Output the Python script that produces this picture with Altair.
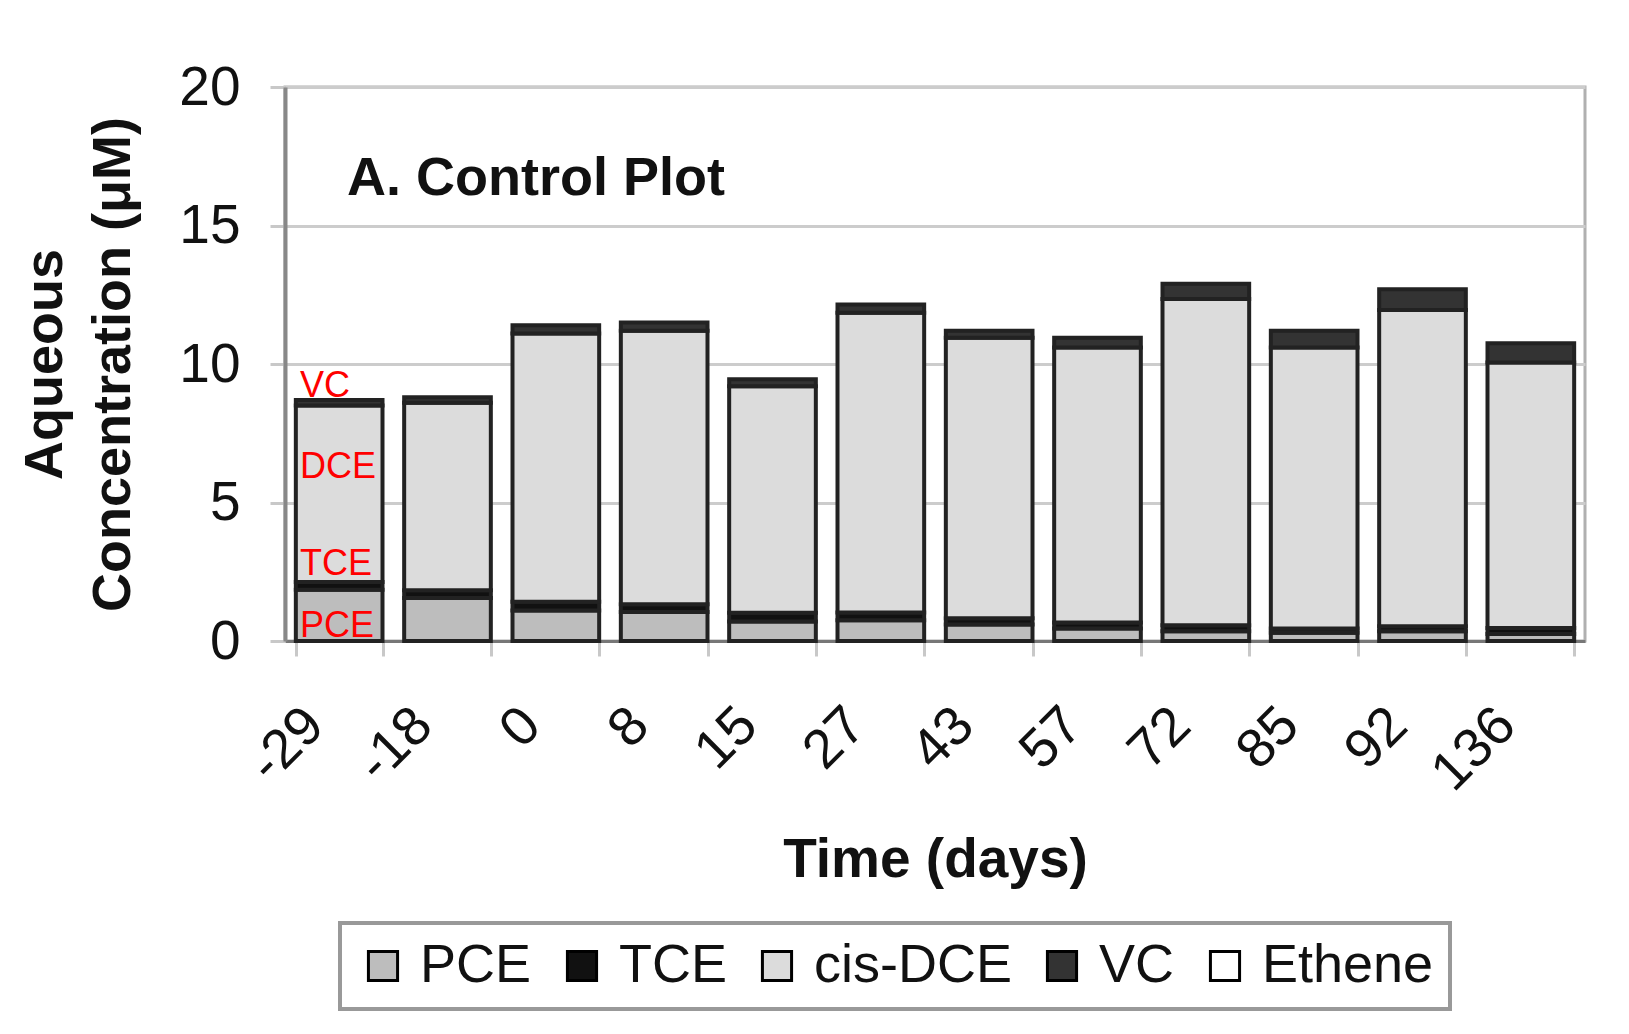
import altair as alt
import pandas as pd

# ---- data ----
days = ["-29", "-18", "0", "8", "15", "27", "43", "57", "72", "85", "92", "136"]
species = ["PCE", "TCE", "cis-DCE", "VC", "Ethene"]
pce = [1.85, 1.55, 1.10, 1.05, 0.70, 0.75, 0.60, 0.45, 0.35, 0.30, 0.35, 0.25]
tce = [0.28, 0.28, 0.32, 0.28, 0.32, 0.28, 0.22, 0.22, 0.22, 0.15, 0.18, 0.22]
dce = [6.37, 6.77, 9.68, 9.87, 8.18, 10.82, 10.13, 9.93, 11.78, 10.15, 11.42, 9.58]
vc = [0.20, 0.20, 0.30, 0.30, 0.25, 0.30, 0.25, 0.35, 0.55, 0.60, 0.75, 0.70]
ethene = [0, 0, 0, 0, 0, 0, 0, 0, 0, 0, 0, 0]
colors = ["#bdbdbd", "#111111", "#dcdcdc", "#333333", "#ffffff"]

panel_title = "A. Control Plot"
ann_labels = ["VC", "DCE", "TCE", "PCE"]
ann_values = [8.8, 5.9, 2.4, 0.15]

y_ticks = [0, 5, 10, 15, 20]

# ---- tables ----
series = [pce, tce, dce, vc, ethene]
rows = []
for i, d in enumerate(days):
    for j, s in enumerate(species):
        rows.append({"day": d, "species": s, "value": series[j][i], "order": j})
df = pd.DataFrame(rows)
ann_df = pd.DataFrame({"label": ann_labels, "value": ann_values})
title_df = pd.DataFrame({"t": [panel_title]})

FONT = "Liberation Sans"

x_enc = alt.X(
    "day:N",
    sort=days,
    scale=alt.Scale(paddingInner=0.2, paddingOuter=0.1),
    axis=alt.Axis(
        title="Time (days)",
        labelAngle=-45,
        labelAlign="right",
        labelBaseline="middle",
        labelFontSize=55,
        labelColor="#111111",
        labelOffset=-25,
        labelPadding=60,
        tickSize=15,
        tickWidth=3,
        tickColor="#c8c8c8",
        tickBand="extent",
        domainColor="#777777",
        domainWidth=3,
        titleFontSize=55,
        titleFontWeight="bold",
        titleColor="#111111",
        titlePadding=33,
        grid=False,
    ),
)

y_enc = alt.Y(
    "value:Q",
    stack="zero",
    scale=alt.Scale(domain=[0, 20]),
    axis=alt.Axis(
        values=y_ticks,
        title=["Aqueous", "Concentration (\u03bcM)"],
        titleFontSize=54,
        titleFontWeight="bold",
        titleColor="#111111",
        titleLineHeight=68,
        titlePadding=38,
        labelFontSize=55,
        labelColor="#111111",
        labelPadding=30,
        tickSize=15,
        tickWidth=3,
        tickColor="#c8c8c8",
        domainColor="#888888",
        domainWidth=4,
        gridColor="#cccccc",
        gridWidth=3,
    ),
)

bars = (
    alt.Chart(df)
    .transform_filter("datum.value > 0")
    .mark_bar(stroke="#222222", strokeWidth=4)
    .encode(
        x=x_enc,
        y=y_enc,
        color=alt.Color(
            "species:N",
            scale=alt.Scale(domain=species, range=colors),
            legend=alt.Legend(
                title=None,
                orient="none",
                legendX=55,
                legendY=836,
                direction="horizontal",
                symbolType="square",
                symbolSize=850,
                symbolStrokeColor="#000000",
                symbolStrokeWidth=3,
                symbolOpacity=1,
                labelFontSize=54,
                labelLimit=0,
                labelColor="#111111",
                labelOffset=10,
                columnPadding=23,
                padding=16,
                strokeColor="#999999",
                fillColor="#ffffff",
            ),
        ),
        order=alt.Order("order:Q"),
    )
)

ann = (
    alt.Chart(ann_df)
    .mark_text(color="#ff0000", fontSize=36, align="left", baseline="alphabetic")
    .encode(x=alt.value(15), y=alt.Y("value:Q"), text="label:N")
)

title_mark = (
    alt.Chart(title_df)
    .mark_text(fontSize=54, fontWeight="bold", color="#111111", align="left", baseline="alphabetic")
    .encode(x=alt.value(62), y=alt.value(108), text="t:N")
)

chart = (
    alt.layer(bars, ann, title_mark)
    .properties(
        width=1300,
        height=554,
        autosize=alt.AutoSizeParams(type="none"),
        padding={"left": 277, "top": 79, "right": 30, "bottom": 375},
        background="#ffffff",
    )
    .configure(font=FONT)
    .configure_view(stroke="#b0b0b0", strokeWidth=3)
    .configure_legend(strokeWidth=4)
)

chart.save("out.html", embed_options={"renderer": "svg", "actions": False})
